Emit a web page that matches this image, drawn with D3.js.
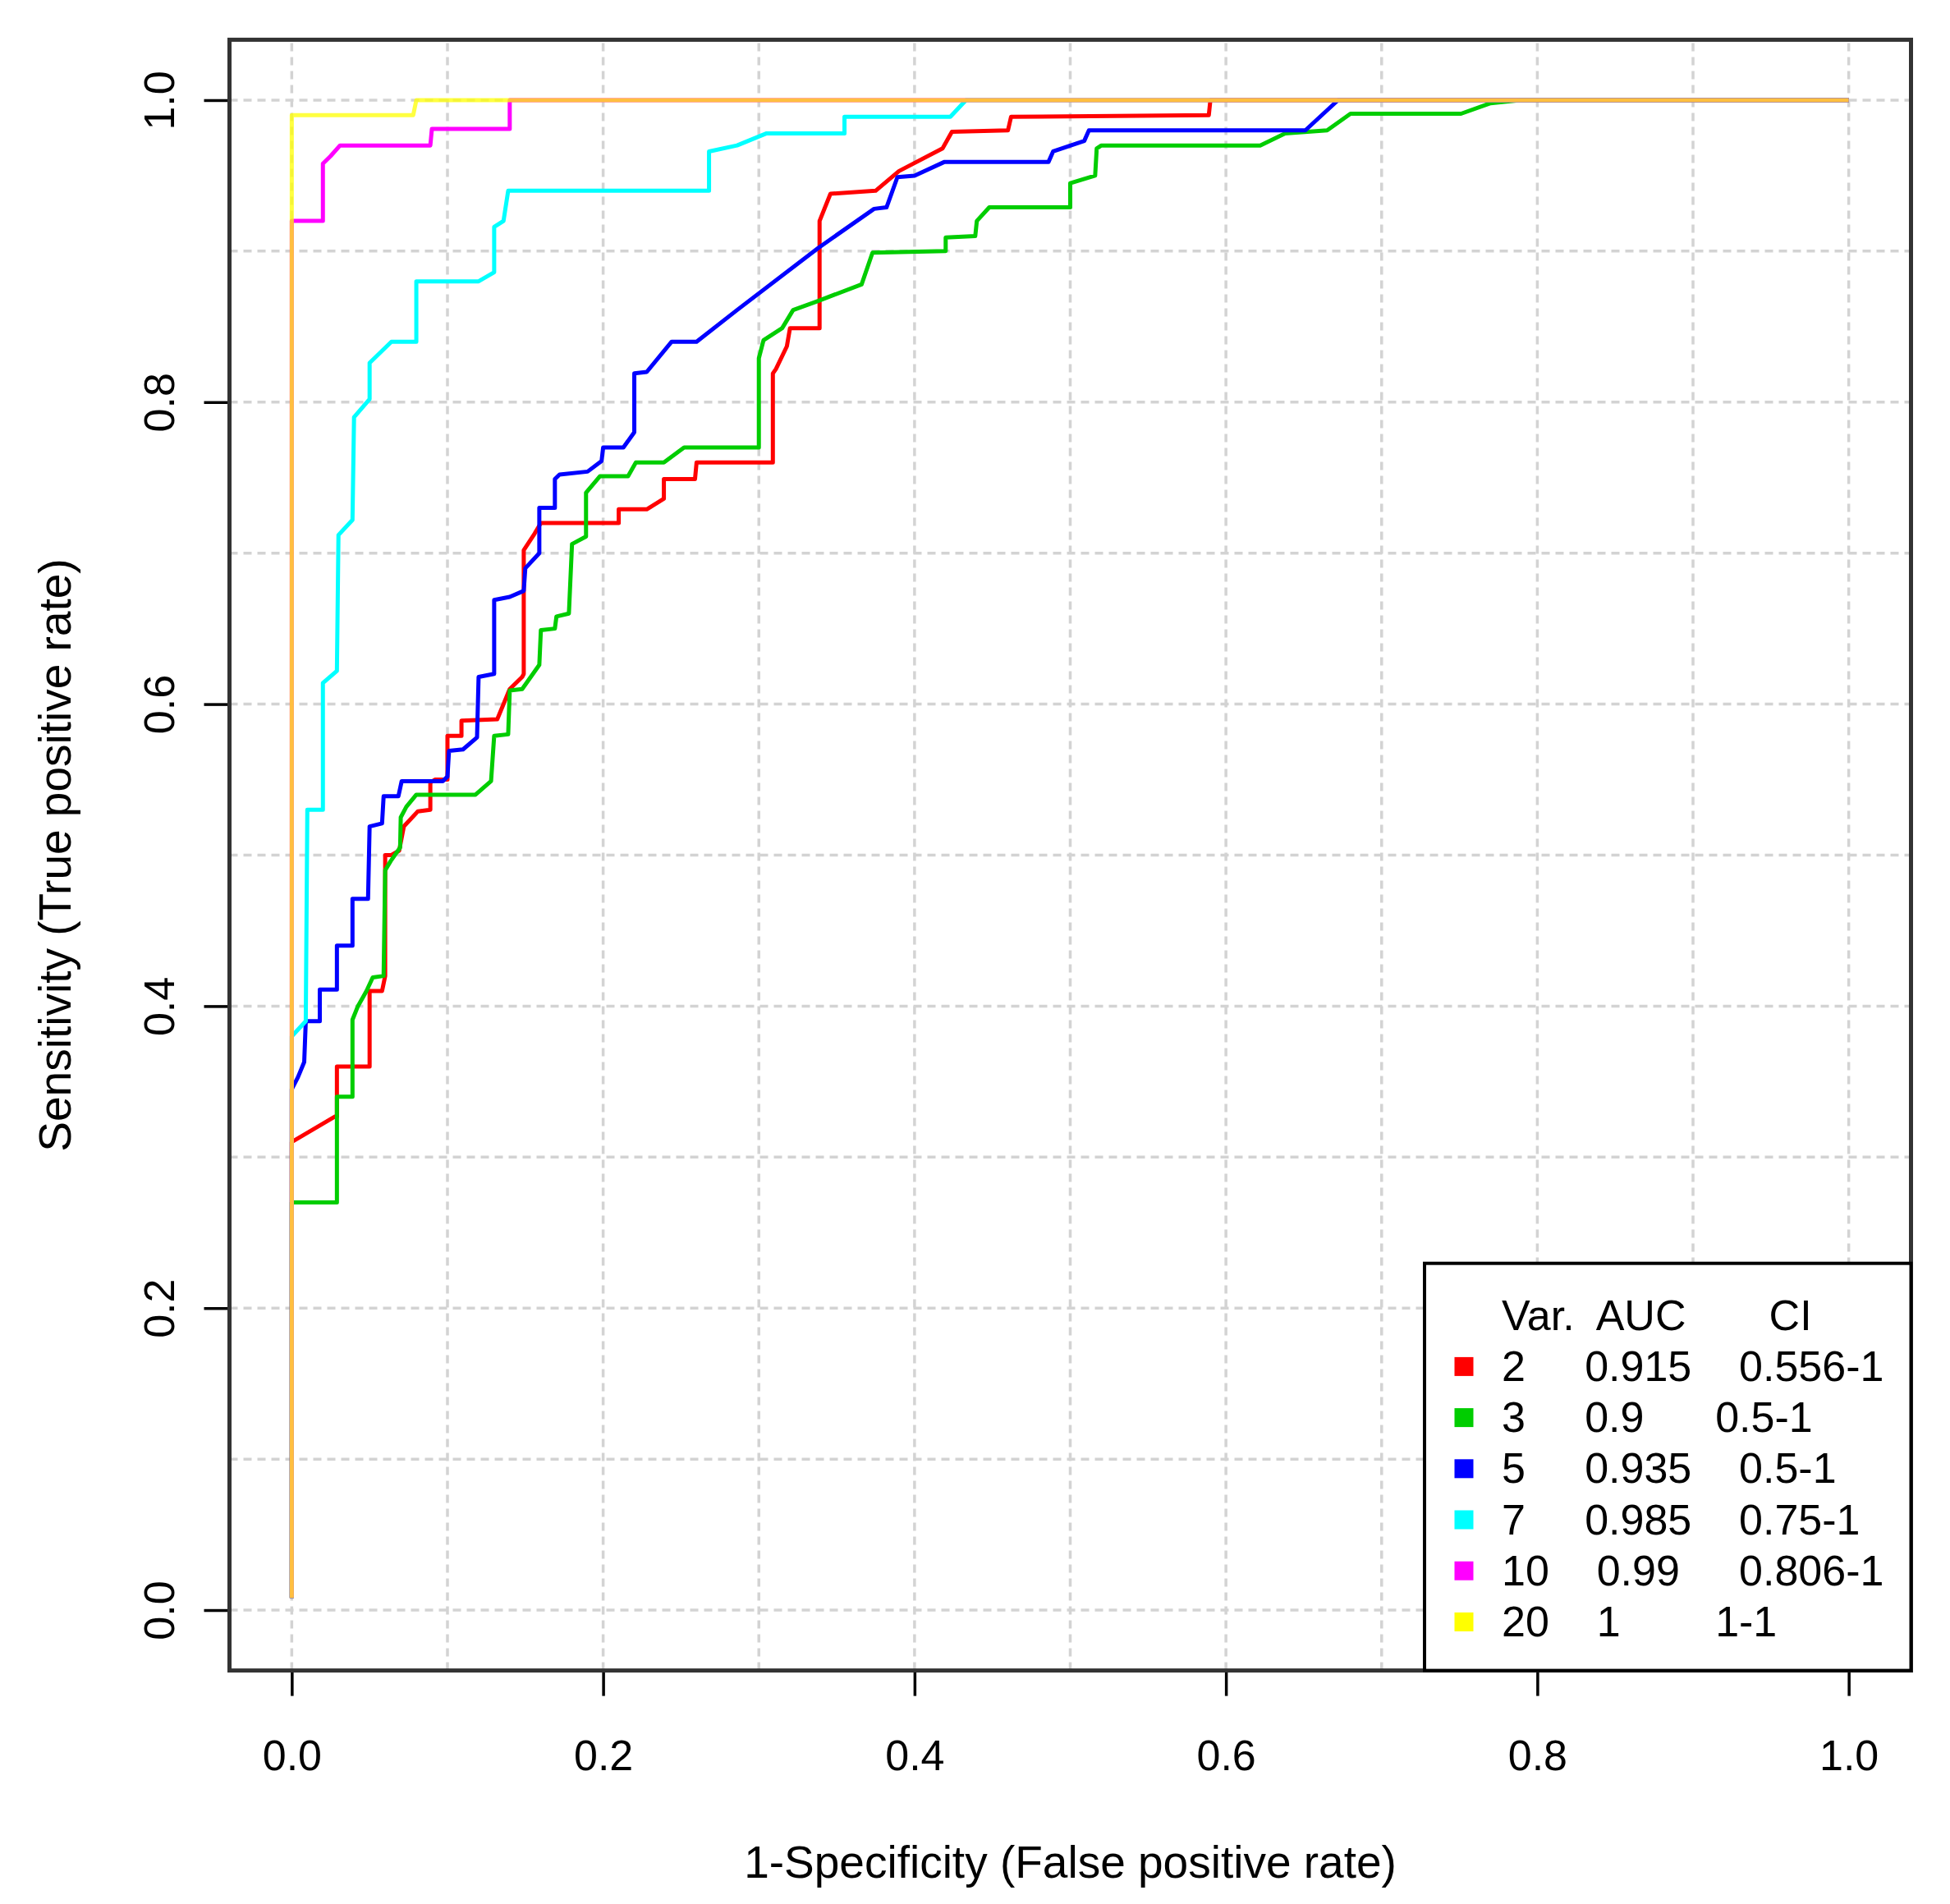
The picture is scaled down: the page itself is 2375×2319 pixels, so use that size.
<!DOCTYPE html>
<html lang="en">
<head>
  <meta charset="UTF-8">
  <title>ROC curves by number of variables</title>
  <script src="https://d3js.org/d3.v7.min.js"></script>
  <style>
    body { margin: 0; background: white; }
    svg text { font-family: "Liberation Sans", Arial, sans-serif; fill: black; }
  </style>
</head>
<body>
  <svg id="roc" width="2375" height="2319"></svg>

  <script>
    // ROC points, [1-specificity, sensitivity]
    const roc2 = [[0,0.008],[0,0.31],[0.028,0.327],[0.029,0.327],[0.029,0.36],[0.05,0.36],[0.05,0.41],[0.058,0.41],[0.06,0.42],[0.06,0.5],[0.064,0.5],[0.069,0.503],[0.072,0.519],[0.081,0.529],[0.089,0.53],[0.089,0.548],[0.092,0.55],[0.1,0.55],[0.1,0.579],[0.109,0.579],[0.109,0.589],[0.132,0.59],[0.14,0.61],[0.148,0.618],[0.149,0.62],[0.149,0.702],[0.156,0.713],[0.16,0.72],[0.21,0.72],[0.21,0.729],[0.228,0.729],[0.239,0.736],[0.239,0.749],[0.259,0.749],[0.26,0.76],[0.309,0.76],[0.309,0.819],[0.311,0.822],[0.318,0.837],[0.32,0.849],[0.339,0.849],[0.339,0.92],[0.346,0.938],[0.375,0.94],[0.39,0.953],[0.418,0.968],[0.424,0.979],[0.46,0.98],[0.462,0.989],[0.589,0.99],[0.59,1],[1,1]];
    const roc3 = [[0,0.008],[0,0.27],[0.029,0.27],[0.029,0.34],[0.039,0.34],[0.039,0.391],[0.0425,0.4],[0.048,0.41],[0.052,0.419],[0.059,0.42],[0.06,0.49],[0.0635,0.496],[0.0696,0.505],[0.07,0.525],[0.0736,0.532],[0.08,0.54],[0.118,0.54],[0.128,0.549],[0.13,0.579],[0.139,0.58],[0.14,0.609],[0.148,0.61],[0.159,0.626],[0.16,0.649],[0.169,0.65],[0.17,0.658],[0.178,0.66],[0.18,0.706],[0.189,0.711],[0.189,0.74],[0.198,0.751],[0.216,0.751],[0.221,0.76],[0.239,0.76],[0.252,0.77],[0.3,0.77],[0.3,0.829],[0.303,0.841],[0.315,0.849],[0.322,0.861],[0.338,0.867],[0.366,0.878],[0.373,0.899],[0.42,0.9],[0.42,0.909],[0.439,0.91],[0.44,0.92],[0.448,0.929],[0.5,0.929],[0.5,0.945],[0.516,0.95],[0.517,0.968],[0.52,0.97],[0.622,0.97],[0.638,0.978],[0.665,0.98],[0.68,0.991],[0.751,0.991],[0.77,0.998],[0.789,1],[1,1]];
    const roc5 = [[0,0.008],[0,0.345],[0.004,0.353],[0.008,0.363],[0.009,0.39],[0.018,0.39],[0.018,0.411],[0.029,0.411],[0.029,0.44],[0.039,0.44],[0.039,0.471],[0.049,0.471],[0.05,0.519],[0.058,0.521],[0.059,0.539],[0.0685,0.539],[0.0706,0.549],[0.097,0.549],[0.1,0.552],[0.101,0.569],[0.11,0.57],[0.119,0.578],[0.12,0.618],[0.13,0.62],[0.13,0.669],[0.14,0.671],[0.149,0.675],[0.15,0.69],[0.159,0.7],[0.159,0.73],[0.169,0.73],[0.169,0.749],[0.172,0.752],[0.19,0.754],[0.199,0.761],[0.2,0.77],[0.213,0.77],[0.22,0.78],[0.22,0.819],[0.228,0.82],[0.244,0.84],[0.26,0.84],[0.286,0.861],[0.338,0.902],[0.374,0.928],[0.382,0.929],[0.389,0.949],[0.4,0.95],[0.419,0.959],[0.486,0.959],[0.489,0.966],[0.509,0.973],[0.512,0.98],[0.651,0.98],[0.672,1],[1,1]];
    const roc7 = [[0,0.008],[0,0.38],[0.009,0.39],[0.01,0.53],[0.02,0.53],[0.02,0.614],[0.029,0.622],[0.03,0.712],[0.039,0.722],[0.04,0.79],[0.05,0.802],[0.05,0.826],[0.064,0.84],[0.08,0.84],[0.08,0.88],[0.12,0.88],[0.13,0.886],[0.13,0.916],[0.136,0.92],[0.139,0.94],[0.268,0.94],[0.268,0.966],[0.286,0.97],[0.305,0.978],[0.355,0.978],[0.355,0.989],[0.423,0.989],[0.433,1],[1,1]];
    const roc10 = [[0,0.008],[0,0.92],[0.02,0.92],[0.02,0.958],[0.025,0.963],[0.031,0.97],[0.089,0.97],[0.09,0.981],[0.14,0.981],[0.14,1],[1,1]];
    const roc20 = [[0,0.008],[0,0.99],[0.078,0.99],[0.08,1],[1,1]];

    const curves = [roc2, roc3, roc5, roc7, roc10, roc20];
    const varLabels = ["2", "3", "5", "7", "10", "20"];
    const aucLabels = ["0.915", "0.9", "0.935", "0.985", "0.99", "1"];
    const ciLabels = ["0.556-1", "0.5-1", "0.5-1", "0.75-1", "0.806-1", "1-1"];
    const xTicks = [0, 0.2, 0.4, 0.6, 0.8, 1.0];
    const yTicks = [0, 0.2, 0.4, 0.6, 0.8, 1.0];
    const gridTicks = d3.range(0, 11).map(i => i / 10);

    const colors = ["#FF0000", "#00CD00", "#0000FF", "#00FFFF", "#FF00FF", "#FFFF00"];
    const opacities = [1, 1, 1, 1, 1, 0.75];

    const svg = d3.select("#roc");
    const box = { left: 279.5, right: 2327.5, top: 48.4, bottom: 2034.6 };

    // R style: data range padded by 4% on each side
    const x = d3.scaleLinear().domain([-0.04, 1.04]).range([box.left, box.right]);
    const y = d3.scaleLinear().domain([-0.04, 1.04]).range([box.bottom, box.top]);

    // grid
    const grid = svg.append("g")
      .attr("stroke", "#D3D3D3")
      .attr("stroke-width", 3.5)
      .attr("stroke-dasharray", "10,7");
    grid.selectAll(".gv").data(gridTicks).enter().append("line")
      .attr("x1", d => x(d)).attr("x2", d => x(d))
      .attr("y1", box.bottom).attr("y2", box.top);
    grid.selectAll(".gh").data(gridTicks).enter().append("line")
      .attr("y1", d => y(d)).attr("y2", d => y(d))
      .attr("x1", box.left).attr("x2", box.right);

    // curves
    const line = d3.line().x(d => x(d[0])).y(d => y(d[1]));
    svg.append("g").selectAll("path").data(curves).enter().append("path")
      .attr("d", line)
      .attr("fill", "none")
      .attr("stroke", (d, i) => colors[i])
      .attr("stroke-opacity", (d, i) => opacities[i])
      .attr("stroke-width", 5)
      .attr("stroke-linejoin", "round");

    // axes
    const xAxis = svg.append("g")
      .attr("transform", `translate(0,${box.bottom})`)
      .call(d3.axisBottom(x).tickValues(xTicks).tickFormat(d3.format(".1f")).tickSize(31).tickPadding(0));
    xAxis.select(".domain").remove();
    xAxis.selectAll(".tick line").attr("stroke", "black").attr("stroke-width", 3.5);
    xAxis.selectAll(".tick text")
      .attr("y", 121).attr("dy", null)
      .attr("font-size", 52);

    const yAxis = svg.append("g")
      .attr("transform", `translate(${box.left},0)`)
      .call(d3.axisLeft(y).tickValues(yTicks).tickFormat(d3.format(".1f")).tickSize(31).tickPadding(0));
    yAxis.select(".domain").remove();
    yAxis.selectAll(".tick line").attr("stroke", "black").attr("stroke-width", 3.5);
    yAxis.selectAll(".tick text")
      .attr("x", null).attr("dy", null)
      .attr("text-anchor", "middle")
      .attr("transform", "translate(-68,0) rotate(-90)")
      .attr("font-size", 52);

    // plot box
    svg.append("rect")
      .attr("x", box.left).attr("y", box.top)
      .attr("width", box.right - box.left).attr("height", box.bottom - box.top)
      .attr("fill", "none").attr("stroke", "#333").attr("stroke-width", 5);

    // axis titles
    svg.append("text")
      .attr("x", (box.left + box.right) / 2).attr("y", 2287)
      .attr("text-anchor", "middle").attr("font-size", 55)
      .text("1-Specificity (False positive rate)");
    svg.append("text")
      .attr("transform", `translate(86,${(box.top + box.bottom) / 2}) rotate(-90)`)
      .attr("text-anchor", "middle").attr("font-size", 55)
      .text("Sensitivity (True positive rate)");

    // legend, bottom right, columns aligned with spaces like the original
    const lg = { left: 1735, right: box.right, top: 1538.7, bottom: box.bottom };
    const rowH = 62.2;
    const textX = lg.left + 94;
    const firstBase = lg.top + 81;

    const legend = svg.append("g");
    legend.append("rect")
      .attr("x", lg.left).attr("y", lg.top)
      .attr("width", lg.right - lg.left).attr("height", lg.bottom - lg.top)
      .attr("fill", "white").attr("stroke", "black").attr("stroke-width", 4);

    const rows = varLabels.map((v, i) =>
      v.padEnd(6, " ") + aucLabels[i].padEnd(9, " ") + ciLabels[i]);

    legend.append("text")
      .attr("x", textX).attr("y", firstBase)
      .attr("font-size", 52)
      .style("white-space", "pre")
      .text("Var.  AUC       CI");

    legend.selectAll(".row").data(rows).enter().append("text")
      .attr("x", textX)
      .attr("y", (d, i) => firstBase + rowH * (i + 1))
      .attr("font-size", 52)
      .style("white-space", "pre")
      .text(d => d);

    legend.selectAll(".key").data(colors).enter().append("rect")
      .attr("x", lg.left + 36.5)
      .attr("y", (d, i) => firstBase + rowH * (i + 1) - 29)
      .attr("width", 23).attr("height", 23)
      .attr("fill", d => d);
  </script>
</body>
</html>
